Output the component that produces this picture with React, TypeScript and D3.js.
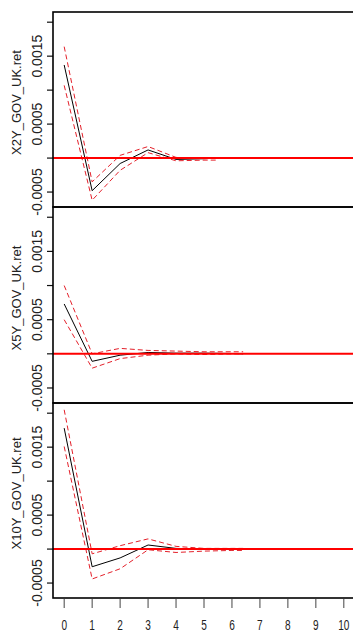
import * as d3 from 'd3';

// horizons and impulse responses
const steps2Y = [0, 1, 2, 3, 4, 5, 5.5];
const irf2Y = [0.00137, -0.00048, -0.00008, 0.00012, -0.00002, -0.00001, 0];
const upper2Y = [0.00164, -0.00035, 0.00004, 0.00017, 0.00001, 0, 0];
const lower2Y = [0.00107, -0.00062, -0.00018, 0.00008, -0.00004, -0.00003, -0.00003];

const steps5Y = [0, 1, 2, 3, 4, 5, 6, 6.4];
const irf5Y = [0.00073, -0.00011, -0.00002, 0.00002, 0.00001, 0.00001, 0.000005, 0];
const upper5Y = [0.001, 0, 0.00008, 0.00005, 0.00004, 0.00003, 0.00003, 0.00003];
const lower5Y = [0.0005, -0.00021, -0.00007, -0.00002, 0, -0.00001, 0, 0];

const steps10Y = [0, 1, 2, 3, 4, 5, 6, 6.4];
const irf10Y = [0.00178, -0.00026, -0.00013, 0.00006, 0.00001, 0, 0, 0];
const upper10Y = [0.00205, -0.00007, 0.00005, 0.00015, 0.00004, 0.00001, 0.00001, 0.00001];
const lower10Y = [0.00151, -0.00044, -0.00029, -0.00001, -0.00005, -0.00003, -0.00002, -0.00002];

const panelNames = ['X2Y_GOV_UK.ret', 'X5Y_GOV_UK.ret', 'X10Y_GOV_UK.ret'];
const yTicks = [-0.0005, 0, 0.0005, 0.001, 0.0015, 0.002];
const yLabelled = ['-0.0005', '0.0005', '0.0015'];
const xTicks = [0, 1, 2, 3, 4, 5, 6, 7, 8, 9, 10];

const W = 353;
const H = 633;
const left = 53;
const plotRight = 355;
const panelTops = [12, 207, 403];
const panelBottoms = [207, 403, 598];

const panels = [
  { name: panelNames[0], steps: steps2Y, irf: irf2Y, upper: upper2Y, lower: lower2Y },
  { name: panelNames[1], steps: steps5Y, irf: irf5Y, upper: upper5Y, lower: lower5Y },
  { name: panelNames[2], steps: steps10Y, irf: irf10Y, upper: upper10Y, lower: lower10Y },
];

// R style labels, plain hyphen for the minus
const fmt = (v: number) => d3.format('.4f')(v).replace('\u2212', '-');

export default function App() {
  const x = d3.scaleLinear().domain([-0.4, 10.4]).range([left, plotRight]);
  const font = 'Liberation Sans, Arial, sans-serif';

  return (
    <svg width={W} height={H} style={{ position: 'absolute', left: 0, top: 0, background: '#fff' }}>
      {panels.map((p, i) => {
        const top = panelTops[i];
        const bottom = panelBottoms[i];
        const y = d3.scaleLinear().domain([-0.00072, 0.00215]).range([bottom, top]);
        const mk = (vals: number[]) =>
          d3.line<number>().x((_, j) => x(p.steps[j])).y((d) => y(d))(vals) || '';
        const mid = (top + bottom) / 2 - 7;
        return (
          <g key={p.name}>
            {/* y axis ticks */}
            {yTicks.map((t) => (
              <line key={t} x1={left - 6} x2={left} y1={y(t)} y2={y(t)} stroke="#111" strokeWidth={1.2} />
            ))}
            {yTicks.map((t) => {
              const lab = fmt(t);
              if (!yLabelled.includes(lab)) return null;
              return (
                <text
                  key={'l' + t}
                  transform={`translate(42,${y(t)}) rotate(-90)`}
                  textAnchor="middle"
                  fontFamily={font}
                  fontSize={14}
                  fill="#222"
                >
                  {lab}
                </text>
              );
            })}
            <text
              transform={`translate(21,${mid}) rotate(-90)`}
              textAnchor="middle"
              fontFamily={font}
              fontSize={13}
              fill="#222"
            >
              {p.name}
            </text>
            {/* response and bands */}
            <path d={mk(p.irf)} fill="none" stroke="#000" strokeWidth={1} />
            <path d={mk(p.upper)} fill="none" stroke="#e4202a" strokeWidth={1} strokeDasharray="5 3" />
            <path d={mk(p.lower)} fill="none" stroke="#e4202a" strokeWidth={1} strokeDasharray="5 3" />
            <line x1={left} x2={W} y1={y(0)} y2={y(0)} stroke="#ff0000" strokeWidth={2} />
            {/* box */}
            <rect x={left} y={top} width={plotRight - left} height={bottom - top} fill="none" stroke="#000" strokeWidth={1.6} />
          </g>
        );
      })}
      {/* x axis */}
      {xTicks.map((t) => (
        <g key={t}>
          <line x1={x(t)} x2={x(t)} y1={599} y2={608} stroke="#444" strokeWidth={1} />
          <text
            transform={`translate(${x(t)},630) scale(0.72,1)`}
            textAnchor="middle"
            fontFamily={font}
            fontSize={14}
            fill="#222"
          >
            {t}
          </text>
        </g>
      ))}
    </svg>
  );
}
